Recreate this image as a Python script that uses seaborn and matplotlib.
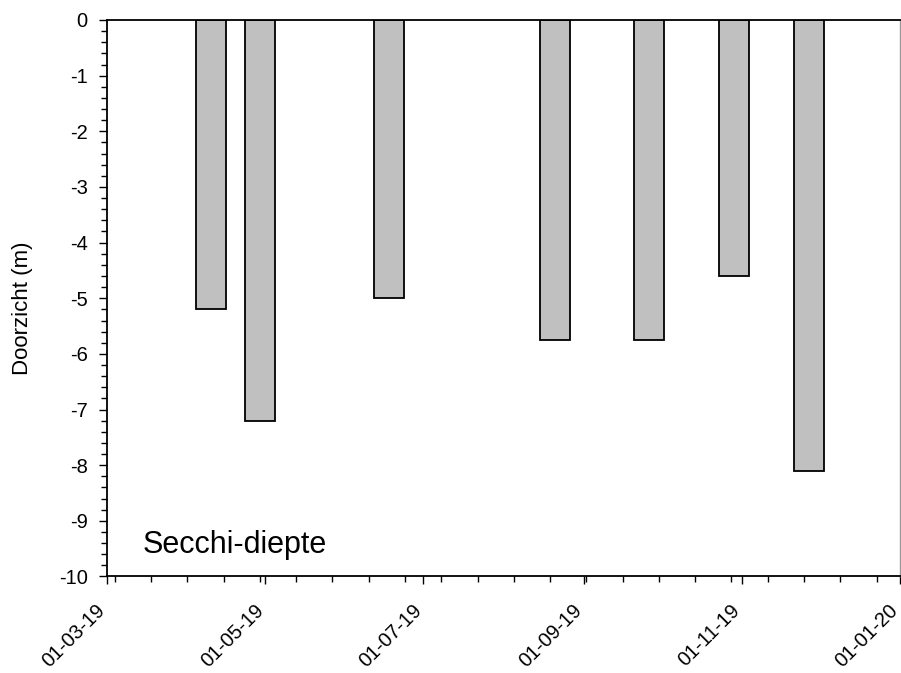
import matplotlib
matplotlib.use('Agg')
import matplotlib.pyplot as plt
import matplotlib.dates as mdates
import matplotlib.transforms as mtransforms
from matplotlib.ticker import MultipleLocator, FixedLocator, FuncFormatter
import seaborn as sns
import pandas as pd

sns.set_theme(style="ticks")
plt.rcParams['font.family'] = ['Liberation Sans', 'DejaVu Sans']

# Secchi depth measurements (m, negative = below surface)
dates = ['2019-04-10', '2019-04-29', '2019-06-18', '2019-08-21',
         '2019-09-26', '2019-10-29', '2019-11-27']
depth = [-5.2, -7.2, -5.0, -5.75, -5.75, -4.6, -8.1]

x_start, x_end = '2019-03-01', '2020-01-01'

df = pd.DataFrame({'datum': mdates.date2num(pd.to_datetime(dates)),
                   'diepte': depth})

fig = plt.figure(figsize=(9.01, 6.73), dpi=100)
ax = fig.add_axes([0.1188, 0.1434, 0.8800, 0.8269])

# bar width 11.6 days, min spacing 19 days
sns.barplot(data=df, x='datum', y='diepte', native_scale=True, width=11.6 / 19,
            color='#C0C0C0', edgecolor='black', linewidth=1.3, saturation=1, ax=ax)

ax.set_xlim(mdates.date2num(pd.Timestamp(x_start)), mdates.date2num(pd.Timestamp(x_end)))
ax.set_ylim(-10, 0)

ax.xaxis.set_major_locator(mdates.MonthLocator(bymonth=[1, 3, 5, 7, 9, 11]))
ax.xaxis.set_major_formatter(mdates.DateFormatter('%d-%m-%y'))
minor = mdates.date2num(pd.date_range('2019-03-04', x_end, freq='14D'))
ax.xaxis.set_minor_locator(FixedLocator(minor))

ax.yaxis.set_major_locator(MultipleLocator(1))
ax.yaxis.set_minor_locator(MultipleLocator(0.2))
ax.yaxis.set_major_formatter(FuncFormatter(lambda v, p: f'{v:.0f}'))

ax.tick_params(axis='both', which='major', direction='out', length=6, width=1,
               color='black', labelsize=14.5, labelcolor='black')
ax.tick_params(axis='x', which='major', pad=16)
ax.tick_params(axis='y', which='major', pad=8)
ax.tick_params(axis='both', which='minor', direction='out', length=4, width=1, color='black')

for side in ['left', 'bottom', 'top']:
    ax.spines[side].set_color('black')
    ax.spines[side].set_linewidth(1.3)
ax.spines['right'].set_color('#999999')
ax.spines['right'].set_linewidth(1)

ax.set_xlabel('')
ax.set_ylabel('Doorzicht (m)', fontsize=16, color='black')
ax.yaxis.set_label_coords(-0.093, 0.482)

ax.text(0.045, 0.042, 'Secchi-diepte', transform=ax.transAxes, fontsize=22,
        color='black', ha='left', va='baseline')

fig.canvas.draw()
shift = mtransforms.ScaledTranslation(-4.5 / 100, 0, fig.dpi_scale_trans)
for lab in ax.get_xticklabels():
    lab.set_rotation(45)
    lab.set_ha('right')
    lab.set_va('center')
    lab.set_rotation_mode('anchor')
    lab.set_transform(lab.get_transform() + shift)

fig.savefig('out.png', dpi=100)
